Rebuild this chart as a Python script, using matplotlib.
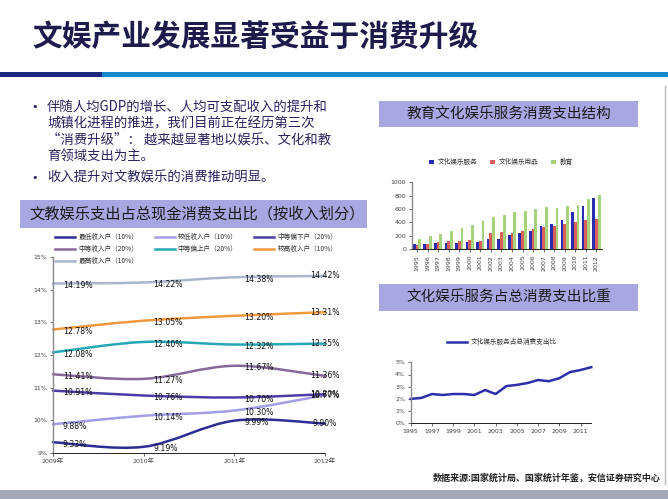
import numpy as np
import matplotlib.pyplot as plt
from matplotlib.path import Path
from matplotlib.patches import PathPatch, Rectangle
from matplotlib.lines import Line2D
from matplotlib.ticker import FuncFormatter

plt.rcParams['font.family'] = ['Noto Sans CJK SC', 'DejaVu Sans']

# 页面尺寸（像素）
W, H = 668, 499

# 左图：文教娱乐支出占总现金消费支出比（%），按收入划分
years_left = ['2009年', '2010年', '2011年', '2012年']
income_groups = ['最低收入户（10%）', '较低收入户（10%）', '中等偏下户（20%）',
                 '中等收入户（20%）', '中等偏上户（20%）', '较高收入户（10%）',
                 '最高收入户（10%）']
lowest = [9.33, 9.19, 9.99, 9.90]
lower = [9.88, 10.14, 10.30, 10.77]
lower_mid = [10.91, 10.76, 10.70, 10.80]
middle = [11.41, 11.27, 11.67, 11.36]
upper_mid = [12.08, 12.40, 12.32, 12.35]
higher = [12.78, 13.05, 13.20, 13.31]
highest = [14.19, 14.22, 14.38, 14.42]
group_colors = ['#2c2c95', '#a39de6', '#4a3ea6', '#86699a',
                '#25a7b6', '#f09a3e', '#aab4cd']

# 右上：教育文化娱乐服务消费支出结构（元）
bar_years = [str(y) for y in range(1995, 2013)]
culture_service = [73, 85, 100, 100, 100, 115, 115, 160, 160, 215,
                   245, 280, 355, 380, 440, 560, 650, 770]
culture_goods = [70, 85, 115, 125, 125, 140, 130, 250, 260, 245,
                 275, 305, 335, 350, 375, 410, 440, 455]
education = [160, 205, 235, 280, 325, 370, 425, 485, 515, 560,
             575, 605, 630, 620, 650, 665, 750, 810]

# 右下：文化娱乐服务占总消费支出比（%）
share_years = list(range(1995, 2013))
share = [2.0, 2.08, 2.4, 2.32, 2.4, 2.4, 2.32, 2.73, 2.4, 3.05,
         3.15, 3.3, 3.55, 3.45, 3.7, 4.2, 4.37, 4.6]


def smooth_path(xs, ys):
    # 类似 Excel 平滑线的贝塞尔曲线
    pts = np.column_stack([xs, ys]).astype(float)
    n = len(pts)
    verts = [pts[0]]
    codes = [Path.MOVETO]
    for i in range(n - 1):
        p_prev = pts[max(i - 1, 0)]
        p0, p1 = pts[i], pts[i + 1]
        p_next = pts[min(i + 2, n - 1)]
        verts += [p0 + (p1 - p_prev) / 6, p1 - (p_next - p0) / 6, p1]
        codes += [Path.CURVE4] * 3
    return Path(verts, codes)


def px_axes(x0, y0, x1, y1):
    return fig.add_axes([x0 / W, 1 - y1 / H, (x1 - x0) / W, (y1 - y0) / H])


def style_axes(ax):
    ax.set_facecolor('none')
    ax.spines['top'].set_visible(False)
    ax.spines['right'].set_visible(False)
    ax.spines['left'].set_color('#8a8a8a')
    ax.spines['left'].set_linewidth(1.0)
    ax.spines['bottom'].set_color('#222222')
    ax.spines['bottom'].set_linewidth(0.7)
    ax.tick_params(direction='out', length=2.5, width=0.6, labelsize=4.5,
                   labelcolor='#444444', pad=1.5, color='#555555')
    for lab in ax.get_xticklabels() + ax.get_yticklabels():
        lab.set_family(['DejaVu Sans', 'Noto Sans CJK SC'])


fig = plt.figure(figsize=(6.68, 4.99), dpi=100)

# 页面装饰
bg = fig.add_axes([0, 0, 1, 1])
bg.set_xlim(0, W)
bg.set_ylim(H, 0)
bg.axis('off')

bg.text(32, 37, '文娱产业发展显著受益于消费升级', fontsize=21.4, color='#1d1b4c',
        ha='left', va='center', fontweight='bold')
bg.add_patch(Rectangle((0, 72), 102, 5, color='#1b2a7e', lw=0))
bg.add_patch(Rectangle((102, 72), W - 102, 5, color='#1787c8', lw=0))

bullet_lines = [
    (107, '伴随人均GDP的增长、人均可支配收入的提升和'),
    (123.5, '城镇化进程的推进，我们目前正在经历第三次'),
    (140, '“消费升级”： 越来越显著地以娱乐、文化和教'),
    (156.5, '育领域支出为主。'),
    (178, '收入提升对文教娱乐的消费推动明显。'),
]
for y, s in bullet_lines:
    bg.text(47, y, s, fontsize=9.6, color='#27235f', ha='left', va='center',
            fontweight='medium')
for y in (107, 178):
    bg.text(31, y, '•', fontsize=8, color='#27235f', ha='left', va='center',
            family='DejaVu Sans')

header_color = '#a9a7e2'
bg.add_patch(Rectangle((20, 200), 347, 28, color=header_color, lw=0))
bg.text(29, 214, '文教娱乐支出占总现金消费支出比（按收入划分）', fontsize=11,
        color='#1a1a1a', ha='left', va='center')
bg.add_patch(Rectangle((379, 101), 259, 26, color=header_color, lw=0))
bg.text(508.5, 114, '教育文化娱乐服务消费支出结构', fontsize=10.5,
        color='#1a1a1a', ha='center', va='center')
bg.add_patch(Rectangle((379, 284), 259, 27, color=header_color, lw=0))
bg.text(508.5, 297.5, '文化娱乐服务占总消费支出比重', fontsize=10.5,
        color='#1a1a1a', ha='center', va='center')

bg.plot([665, 665], [86, 484], color='#b8b8b8', lw=1)
bg.text(661, 478, '数据来源:国家统计局、国家统计年鉴，安信证券研究中心',
        fontsize=6.5, color='#222222', ha='right', va='center', fontweight='bold')
bg.add_patch(Rectangle((0, 490), W, 9, color='#a3a9b9', lw=0))

# 左图
ax1 = px_axes(53, 257, 325, 453)
series = [lowest, lower, lower_mid, middle, upper_mid, higher, highest]
xl = np.arange(len(years_left))
for vals, c in zip(series, group_colors):
    ax1.add_patch(PathPatch(smooth_path(xl, vals), fill=False, edgecolor=c,
                            lw=1.8, capstyle='round', clip_on=False))
    for i, v in enumerate(vals):
        if i < len(xl) - 1:
            off, ha = (7, -1.5), 'left'
        else:
            off, ha = (0, 0), 'center'
        ax1.annotate(f'{v:.2f}%', (xl[i], v), xytext=off, textcoords='offset points',
                     ha=ha, va='center', fontsize=5.6, color='#111111',
                     family='DejaVu Sans', annotation_clip=False)
ax1.set_xlim(0, 3)
ax1.set_ylim(9, 15)
ax1.set_xticks(xl, years_left)
ax1.set_yticks(range(9, 16))
ax1.yaxis.set_major_formatter(FuncFormatter(lambda v, p: f'{v:.0f}%'))
style_axes(ax1)

# 图例按行排列：三列
order = [0, 3, 6, 1, 4, 2, 5]
handles1 = [Line2D([], [], color=group_colors[k], lw=1.8) for k in order]
labels1 = [income_groups[k] for k in order]
fig.legend(handles1, labels1, loc='upper left',
           bbox_to_anchor=(55 / W, 1 - 233.5 / H), ncol=3, frameon=False,
           fontsize=4.8, handlelength=3.0, handletextpad=0.5,
           columnspacing=2.45, labelspacing=0.55, borderpad=0, borderaxespad=0,
           labelcolor='#333333')

# 右上柱状图
ax2 = px_axes(411.7, 182.3, 601.7, 249.3)
xb = np.arange(len(bar_years))
w = 0.26
ax2.bar(xb - w, culture_service, w, color='#2b2bb0', label='文化娱乐服务')
ax2.bar(xb, culture_goods, w, color='#d9605c', label='文化娱乐用品')
ax2.bar(xb + w, education, w, color='#a5d27a', label='教育')
ax2.set_xlim(-0.5, len(bar_years) - 0.5)
ax2.set_ylim(0, 1000)
ax2.set_xticks(xb, bar_years, rotation=90)
ax2.set_yticks(range(0, 1001, 200))
style_axes(ax2)
ax2.legend(loc='center', bbox_to_anchor=(0.47, 1.3), ncol=3, frameon=False,
           fontsize=4.8, handlelength=0.7, handleheight=0.7, handletextpad=0.5,
           columnspacing=2.0, labelcolor='#333333')

# 右下折线图
ax3 = px_axes(410.7, 362.3, 591.3, 423.3)
ax3.plot(share_years, share, color='#2e2eaa', lw=1.8, label='文化娱乐服务占总消费支出比',
         clip_on=False)
ax3.set_xlim(1995, 2012)
ax3.set_ylim(0, 5)
ax3.set_xticks(range(1995, 2012, 2))
ax3.set_yticks(range(0, 6))
ax3.yaxis.set_major_formatter(FuncFormatter(lambda v, p: f'{v:.0f}%'))
style_axes(ax3)
ax3.legend(loc='center left', bbox_to_anchor=(0.17, 1.33), frameon=False,
           fontsize=4.8, handlelength=3.0, handletextpad=0.5, labelcolor='#333333')

fig.savefig('out.png', dpi=100)
